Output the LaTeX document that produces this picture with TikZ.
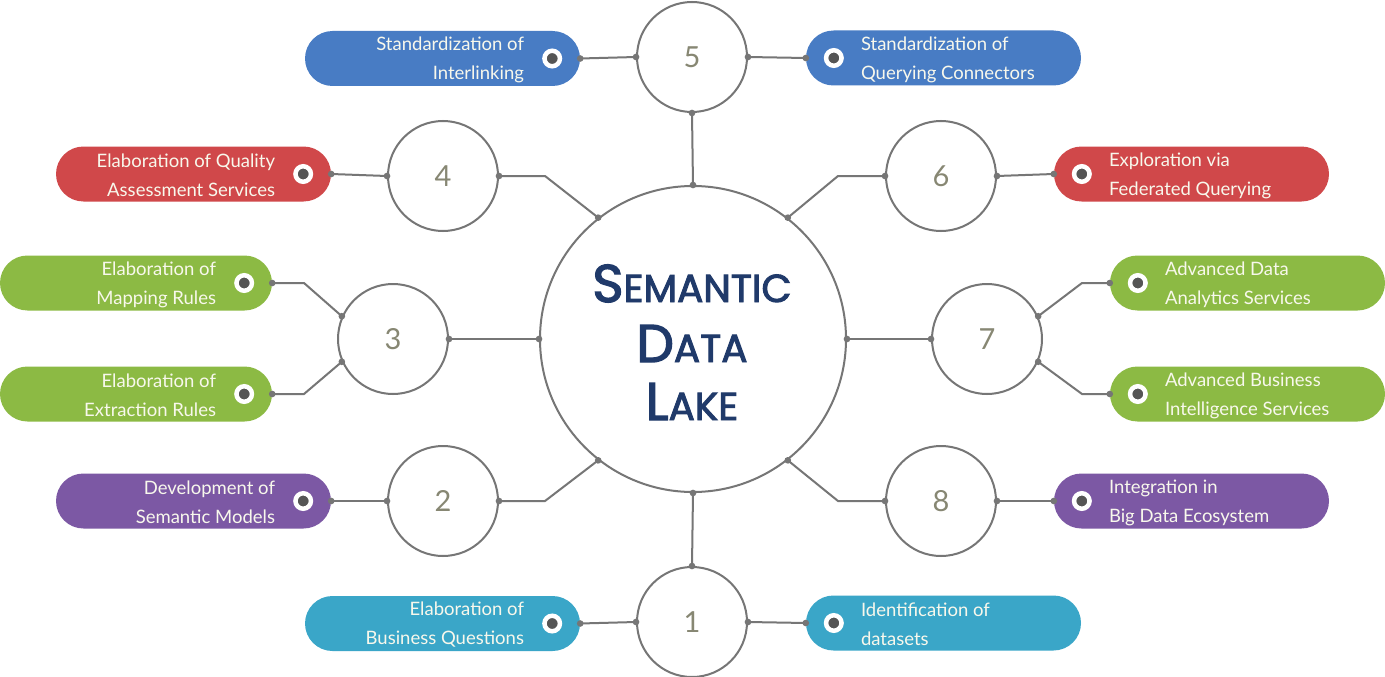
\documentclass[tikz,border=0pt]{standalone}
\usepackage{fontspec}
\setmainfont{Lato}
\newfontfamily\titlefont{Poppins}[BoldFont=Poppins, BoldFeatures={FakeBold=2.5}]
\usetikzlibrary{shapes.misc,arrows.meta,calc}
\definecolor{cblue}{RGB}{72,124,196}
\definecolor{cred}{RGB}{208,72,74}
\definecolor{cgreen}{RGB}{140,186,68}
\definecolor{cpurple}{RGB}{124,88,164}
\definecolor{ccyan}{RGB}{58,166,200}
\definecolor{linegray}{RGB}{118,118,118}
\definecolor{ringgray}{RGB}{85,85,85}
\definecolor{numcol}{RGB}{135,135,115}
\definecolor{navy}{RGB}{32,58,106}
\definecolor{pilltext}{RGB}{248,248,236}
\newcommand\smcap[2]{{\fontsize{53}{59}\selectfont #1}{\fontsize{39}{59}\selectfont #2}}
\tikzset{
  bigcirc/.style={circle, draw=linegray, line width=2pt, fill=white, minimum size=306pt, inner sep=0pt},
  numcirc/.style={circle, draw=linegray, line width=2pt, fill=white, minimum size=110pt, inner sep=0pt,
     font=\fontsize{29}{29}\selectfont, text=numcol},
  pill/.style={rounded rectangle, minimum width=275pt, minimum height=55pt, inner sep=0pt, draw=none},
  ring/.style={circle, fill=ringgray, draw=white, line width=4.5pt, minimum size=15.5pt, inner sep=0pt},
  ptxt/.style={inner sep=0pt, text=pilltext, font=\fontsize{18.5}{29}\selectfont},
  ptxtl/.style={ptxt, align=right, anchor=east},
  ptxtr/.style={ptxt, align=left, anchor=west},
  conn/.style={draw=linegray, line width=2pt, {Circle[length=6.5pt]}-{Circle[length=6.5pt]},
     shorten <=-3.25pt, shorten >=-3.25pt},
  ttl/.style={inner sep=0pt, anchor=base, text=navy, font=\titlefont\bfseries},
}
\begin{document}
\begin{tikzpicture}[x=1pt,y=-1pt]
\useasboundingbox[fill=white] (0,0) rectangle (1385,677);
% center
\node[bigcirc] (C) at (693,339) {};
\node[ttl] (t1) at (692,302) {\smcap{S}{EMANTIC}};
\node[ttl] (t2) at (692,362) {\smcap{D}{ATA}};
\node[ttl] (t3) at (692,420) {\smcap{L}{AKE}};
% number circles
\node[numcirc] (c5) at (692,57) {5};
\node[numcirc] (c1) at (692,622) {1};
\node[numcirc] (c4) at (443,176) {4};
\node[numcirc] (c6) at (941,176) {6};
\node[numcirc] (c3) at (393,339) {3};
\node[numcirc] (c7) at (987,339) {7};
\node[numcirc] (c2) at (443,501) {2};
\node[numcirc] (c8) at (941,501) {8};
% pills left
\node[pill, fill=cblue] (p5l) at (442.5,58.5) {};
\node[pill, fill=cred] (p4) at (193.5,174) {};
\node[pill, fill=cgreen, minimum width=272pt] (p3a) at (136,283) {};
\node[pill, fill=cgreen, minimum width=272pt] (p3b) at (136,394) {};
\node[pill, fill=cpurple] (p2) at (193.5,501) {};
\node[pill, fill=ccyan] (p1l) at (442.5,623.5) {};
% pills right
\node[pill, fill=cblue] (p5r) at (943.5,58) {};
\node[pill, fill=cred] (p6) at (1191.5,174) {};
\node[pill, fill=cgreen] (p7a) at (1247.5,283) {};
\node[pill, fill=cgreen] (p7b) at (1247.5,394) {};
\node[pill, fill=cpurple] (p8) at (1191.5,501) {};
\node[pill, fill=ccyan] (p1r) at (943.5,623) {};
% rings and texts, left pills
\foreach \p/\t in {p5l/{Standardization of\\Interlinking},
                   p4/{Elaboration of Quality\\Assessment Services},
                   p3a/{Elaboration of\\Mapping Rules},
                   p3b/{Elaboration of\\Extraction Rules},
                   p2/{Development of\\Semantic Models},
                   p1l/{Elaboration of\\Business Questions}}{
  \node[ring] (\p-ring) at ($(\p.east)+(-28,0)$) {};
  \node[ptxtl] (\p-txt) at ($(\p.east)+(-56,1.5)$) {\t};
}
\foreach \p/\t in {p5r/{Standardization of\\Querying Connectors},
                   p6/{Exploration via\\Federated Querying},
                   p7a/{Advanced Data\\Analytics Services},
                   p7b/{Advanced Business\\Intelligence Services},
                   p8/{Integration in\\Big Data Ecosystem},
                   p1r/{Identification of\\datasets}}{
  \node[ring] (\p-ring) at ($(\p.west)+(28,0)$) {};
  \node[ptxtr] (\p-txt) at ($(\p.west)+(55,1.5)$) {\t};
}
% bend points
\coordinate (b4) at (545,176);
\coordinate (b2) at (545,501);
\coordinate (b6) at (838,176);
\coordinate (b8) at (838,501);
\coordinate (b3a) at (304,283);
\coordinate (b3b) at (304,394);
\coordinate (b7a) at (1082,283);
\coordinate (b7b) at (1082,394);
% connectors
\draw[conn] (p5l.east) -- (c5.west);
\draw[conn] (c5.east) -- (p5r.west);
\draw[conn] (c5.south) -- (C.north);
\draw[conn] (p1l.east) -- (c1.west);
\draw[conn] (c1.east) -- (p1r.west);
\draw[conn] (c1.north) -- (C.south);
\draw[conn] (p4.east) -- (c4.west);
\draw[conn] (c4.east) -- (b4) -- (C.128);
\draw[conn] (p2.east) -- (c2.west);
\draw[conn] (c2.east) -- (b2) -- (C.232);
\draw[conn] (C.52) -- (b6) -- (c6.west);
\draw[conn] (c6.east) -- (p6.west);
\draw[conn] (C.308) -- (b8) -- (c8.west);
\draw[conn] (c8.east) -- (p8.west);
\draw[conn] (C.west) -- (c3.east);
\draw[conn] (c3.156) -- (b3a) -- (p3a.east);
\draw[conn] (c3.204) -- (b3b) -- (p3b.east);
\draw[conn] (C.east) -- (c7.west);
\draw[conn] (c7.24) -- (b7a) -- (p7a.west);
\draw[conn] (c7.-24) -- (b7b) -- (p7b.west);
\end{tikzpicture}
\end{document}
